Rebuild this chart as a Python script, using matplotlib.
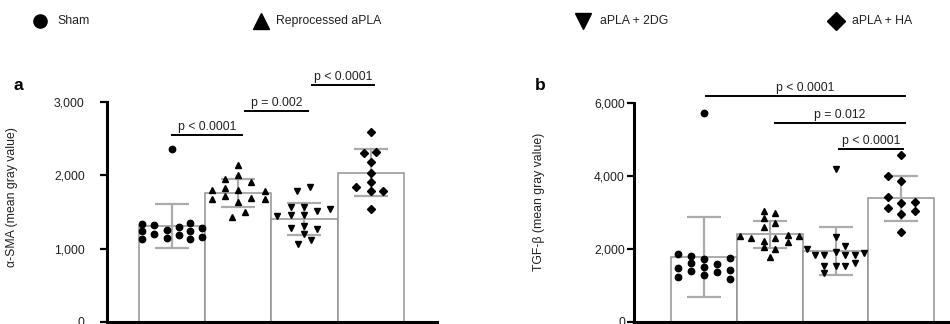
import matplotlib
matplotlib.use("Agg")
import matplotlib.pyplot as plt
from matplotlib.lines import Line2D
from matplotlib.ticker import FuncFormatter

plt.rcParams["font.family"] = ["Liberation Sans", "DejaVu Sans"]

groups = ["Sham", "Reprocessed aPLA", "aPLA + 2DG", "aPLA + HA"]
markers = ["o", "^", "v", "D"]
marker_sizes = [4.6, 5.0, 5.0, 4.0]

# panel a: alpha-SMA
sma_mean = [1310, 1760, 1405, 2033]
sma_sd = [300, 190, 220, 320]
sma_x = [
    [0, -0.45, -0.45, -0.45, -0.27, -0.27, -0.08, -0.08, 0.1, 0.1, 0.27, 0.27, 0.27, 0.45, 0.45],
    [0, 0, -0.2, 0.2, -0.39, -0.2, 0, 0.41, -0.39, -0.2, 0, 0.2, 0.41, -0.1, 0.1],
    [-0.11, 0.09, -0.42, -0.2, -0.2, 0, 0, 0.19, 0.39, -0.2, 0, 0, 0.19, -0.1, 0.1],
    [0, -0.1, 0.08, 0, 0, 0, -0.22, 0, 0.19, 0],
]
sma_y = [
    [2360, 1330, 1235, 1135, 1323, 1196, 1255, 1150, 1291, 1187, 1355, 1246, 1128, 1278, 1164],
    [2141, 2005, 1946, 1905, 1800, 1823, 1800, 1791, 1673, 1719, 1641, 1687, 1673, 1428, 1505],
    [1790, 1846, 1450, 1575, 1460, 1575, 1460, 1520, 1537, 1280, 1310, 1200, 1265, 1065, 1120],
    [2587, 2301, 2323, 2187, 2028, 1914, 1846, 1791, 1791, 1537],
]
sma_sig_left = [0, 1.1, 2.12]
sma_sig_right = [1.05, 2.05, 3.05]
sma_sig_y = [2551, 2878, 3233]
sma_sig_text = ["p < 0.0001", "p = 0.002", "p < 0.0001"]

# panel b: TGF-beta
tgf_mean = [1790, 2402, 1945, 3389]
tgf_sd = [1100, 365, 670, 610]
tgf_x = [
    [0, -0.4, -0.4, -0.4, -0.2, -0.2, -0.2, 0, 0, 0, 0.2, 0.2, 0.4, 0.4, 0.4],
    [-0.09, -0.09, -0.09, 0.08, 0.08, -0.46, -0.28, -0.09, 0.08, 0.27, 0.45, -0.09, 0.08, 0.27, 0],
    [0, 0, -0.44, -0.31, -0.17, 0, 0.15, 0.15, 0.29, 0.44, -0.17, 0, 0.15, 0.29, -0.17],
    [0, -0.2, 0, -0.2, -0.2, 0, 0.21, 0, 0.21, 0],
]
tgf_y = [
    [5718, 1855, 1471, 1241, 1808, 1607, 1397, 1726, 1498, 1288, 1580, 1378, 1745, 1425, 1170],
    [3050, 2850, 2600, 2980, 2700, 2356, 2293, 2228, 2293, 2384, 2356, 2046, 1992, 2201, 1790],
    [4184, 2330, 1990, 1840, 1840, 1930, 2070, 1840, 1840, 1900, 1540, 1530, 1530, 1625, 1340],
    [4576, 4010, 3872, 3416, 3115, 3269, 3288, 2959, 3050, 2474],
]
tgf_sig_left = [0.03, 1.08, 2.06]
tgf_sig_right = [3.05, 3.06, 3.03]
tgf_sig_y = [6192, 5452, 4740]
tgf_sig_text = ["p < 0.0001", "p = 0.012", "p < 0.0001"]

FS = 8.8
TXT = "#222222"
W, H = 950, 324

fig = plt.figure(figsize=(9.5, 3.24), dpi=100, facecolor="white")


def draw_panel(ax, means, sds, xs, ys, sig_l, sig_r, sig_y, sig_t, ymax, ylabel, pad, label_xy):
    pos = range(len(means))
    ax.bar(pos, means, width=1.0, color="white", edgecolor="#939393", linewidth=1.1, zorder=1)
    ax.errorbar(pos, means, yerr=sds, fmt="none", ecolor="#ababab", elinewidth=1.6,
                capsize=12, capthick=1.6, zorder=2)
    for i in pos:
        ax.plot([i + dx for dx in xs[i]], ys[i], linestyle="none", marker=markers[i],
                ms=marker_sizes[i], color="black", zorder=3, clip_on=False)
    for l, r, y, t in zip(sig_l, sig_r, sig_y, sig_t):
        ax.plot([l, r], [y, y], color="black", lw=1.4, clip_on=False)
        ax.annotate(t, xy=((l + r) / 2, y), xytext=(0, 1.5), textcoords="offset points",
                    ha="center", va="bottom", fontsize=FS, color=TXT, annotation_clip=False)
    ax.set_ylim(0, ymax)
    ax.set_yticks(range(0, ymax + 1, ymax // 3))
    ax.yaxis.set_major_formatter(FuncFormatter(lambda v, p: f"{int(v):,}"))
    ax.set_xticks(list(pos))
    ax.set_xticklabels([])
    for s in ("top", "right"):
        ax.spines[s].set_visible(False)
    for s in ("left", "bottom"):
        ax.spines[s].set_linewidth(2.2)
    ax.tick_params(axis="y", length=5, width=1.6, labelsize=FS, pad=pad, labelcolor=TXT)
    ax.tick_params(axis="x", length=5, width=1.6)
    ax.set_ylabel(ylabel, fontsize=FS, color=TXT)
    ax.yaxis.set_label_coords(*label_xy)


ax_a = fig.add_axes([107 / W, 2 / H, 330 / W, 220 / H])
ax_a.set_xlim(-0.98, 4.0)
draw_panel(ax_a, sma_mean, sma_sd, sma_x, sma_y, sma_sig_left, sma_sig_right, sma_sig_y,
           sma_sig_text, 3000, "\u03b1-SMA (mean gray value)", 11, (-0.27, 0.57))

ax_b = fig.add_axes([634 / W, 2 / H, 333 / W, 219 / H])
ax_b.set_xlim(-1.065, 4.0)
draw_panel(ax_b, tgf_mean, tgf_sd, tgf_x, tgf_y, tgf_sig_left, tgf_sig_right, tgf_sig_y,
           tgf_sig_text, 6000, "TGF-\u03b2 (mean gray value)", 1.5, (-0.267, 0.55))

fig.text(18 / W, 1 - 85 / H, "a", fontsize=12.5, fontweight="bold", ha="center", va="center")
fig.text(540 / W, 1 - 85 / H, "b", fontsize=12.5, fontweight="bold", ha="center", va="center")

# legend row across the top
leg_marker_x = [40, 261, 583, 836]
leg_text_x = [57, 276, 600, 852]
leg_ms = [9.5, 11, 11, 9]
for mx, tx, m, ms, name in zip(leg_marker_x, leg_text_x, markers, leg_ms, groups):
    fig.add_artist(Line2D([mx / W], [1 - 21 / H], marker=m, ms=ms, color="black",
                          linestyle="none", transform=fig.transFigure))
    fig.text(tx / W, 1 - 21 / H, name, fontsize=FS, color=TXT, ha="left", va="center")

fig.savefig("out.png", dpi=100, facecolor="white")
